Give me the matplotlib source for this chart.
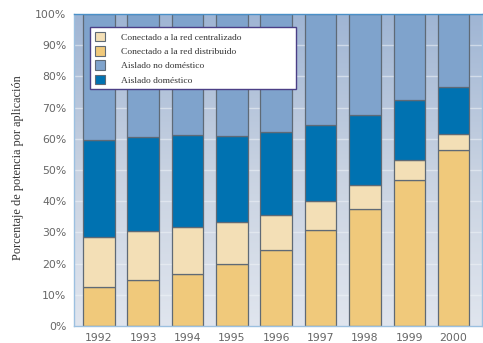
import numpy as np
import matplotlib
matplotlib.use("Agg")
import matplotlib.pyplot as plt
from matplotlib.patches import Patch
from matplotlib.colors import LinearSegmentedColormap

# Share of installed PV power by application (%)
years = ["1992", "1993", "1994", "1995", "1996", "1997", "1998", "1999", "2000"]
red_distribuido = [12.6, 14.6, 16.7, 19.9, 24.4, 30.8, 37.5, 46.8, 56.4]
red_centralizado = [16.0, 15.8, 15.1, 13.3, 11.2, 9.3, 7.7, 6.4, 5.1]
aislado_domestico = [31.0, 30.2, 29.4, 27.7, 26.6, 24.3, 22.3, 19.2, 15.2]
aislado_no_domestico = [40.4, 39.4, 38.8, 39.1, 37.8, 35.6, 32.5, 27.6, 23.3]

series_labels = ["Conectado a la red centralizado", "Conectado a la red distribuido",
                 "Aislado no doméstico", "Aislado doméstico"]
yticks = [0, 10, 20, 30, 40, 50, 60, 70, 80, 90, 100]

c_dist = "#f0c97b"
c_cent = "#f3dfb6"
c_dom = "#0072b1"
c_nodom = "#7fa3cc"
edge = "#5f6a76"

fig = plt.figure(figsize=(4.83, 3.43), dpi=100)
ax = fig.add_axes([74 / 483, 1 - 326 / 343, 408 / 483, 312 / 343])

x = np.arange(len(years))
xlim = (-0.56, 8.64)
ax.set_xlim(*xlim)
ax.set_ylim(0, 100)

# vertical gradient background
grad = LinearSegmentedColormap.from_list("bg", ["#e0e5ee", "#c8d2e1", "#9fb5d4"])
ax.imshow(np.linspace(0, 1, 256).reshape(-1, 1), cmap=grad, origin="lower",
          extent=(xlim[0], xlim[1], 0, 100), aspect="auto", zorder=0)

for yv in yticks[1:-1]:
    ax.axhline(yv, color="#f0f4f8", lw=1.0, alpha=0.55, zorder=1)

w = 0.71
b1 = np.array(red_distribuido)
b2 = b1 + np.array(red_centralizado)
b3 = b2 + np.array(aislado_domestico)
kw = dict(width=w, edgecolor=edge, linewidth=0.9, zorder=2)
ax.bar(x, red_distribuido, color=c_dist, **kw)
ax.bar(x, red_centralizado, bottom=b1, color=c_cent, **kw)
ax.bar(x, aislado_domestico, bottom=b2, color=c_dom, **kw)
ax.bar(x, aislado_no_domestico, bottom=b3, color=c_nodom, **kw)

ax.set_xticks(x)
ax.set_xticklabels(years)
ax.set_yticks(yticks)
ax.set_yticklabels([f"{v}%" for v in yticks])
ax.tick_params(axis="both", length=0, labelsize=7.8, labelcolor="#666666")
ax.tick_params(axis="x", pad=5.0)
ax.tick_params(axis="y", pad=5.5)

for side, col in [("left", "#9cc0e0"), ("bottom", "#9cc0e0"),
                  ("top", "#4a90c8"), ("right", "#9cc0e0")]:
    ax.spines[side].set_color(col)
    ax.spines[side].set_linewidth(1.0)

fig.text(18 / 483, 1 - 168 / 343, "Porcentaje de potencia por aplicación",
         rotation=90, ha="center", va="center", family="Liberation Serif",
         fontsize=8.8, color="#333333")

handles = [Patch(facecolor=c, edgecolor=edge, linewidth=0.8)
           for c in (c_cent, c_dist, c_nodom, c_dom)]
bx0, by0 = 90 / 483, 1 - 89 / 343
bw, bh = (296 - 90) / 483, (89 - 27) / 343
leg = fig.legend(handles, series_labels, loc="upper left",
                 bbox_to_anchor=(bx0, by0, bw, bh), bbox_transform=fig.transFigure,
                 mode="expand", borderaxespad=0, fancybox=False, frameon=True,
                 prop={"family": "Liberation Serif", "size": 6.8},
                 labelcolor="#333333", handlelength=1.1, handleheight=1.2,
                 handletextpad=1.7, labelspacing=0.45, borderpad=0.5)
leg.get_frame().set_edgecolor("#4b3f86")
leg.get_frame().set_linewidth(1.0)
leg.get_frame().set_facecolor("white")
leg.get_frame().set_alpha(1)

fig.savefig("out.png", dpi=100)
